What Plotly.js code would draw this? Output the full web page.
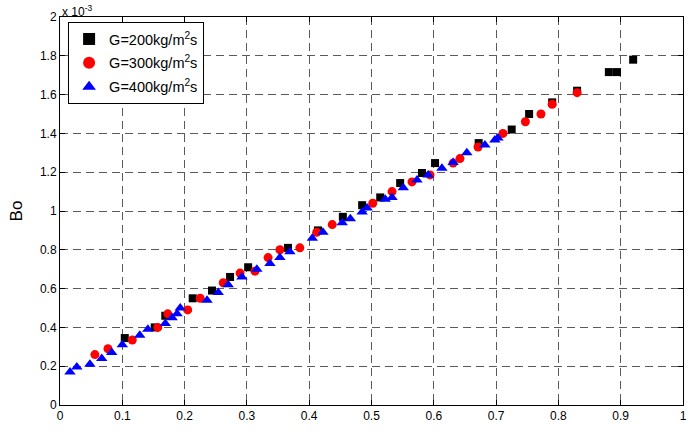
<!DOCTYPE html>
<html>
<head>
<meta charset="utf-8">
<script src="https://cdn.plot.ly/plotly-3.0.1.min.js"></script>
<style>html,body{margin:0;padding:0;background:#fff;}#chart{width:690px;height:438px;}</style>
</head>
<body>
<div id="chart"></div>
<script>
// G=200 kg/m2s
var x200 = [0.104,0.152,0.169,0.213,0.244,0.273,0.302,0.366,0.414,0.454,0.485,0.514,0.546,0.581,0.602,0.672,0.725,0.753,0.79,0.83,0.881,0.894,0.92];
var y200 = [0.345,0.40,0.46,0.55,0.59,0.66,0.71,0.81,0.90,0.97,1.03,1.07,1.144,1.196,1.247,1.35,1.42,1.50,1.56,1.62,1.716,1.716,1.78];
// G=300 kg/m2s
var x300 = [0.056,0.077,0.116,0.157,0.173,0.205,0.225,0.262,0.289,0.313,0.334,0.353,0.385,0.412,0.437,0.502,0.533,0.565,0.594,0.631,0.642,0.671,0.711,0.747,0.772,0.79,0.83];
var y300 = [0.26,0.29,0.335,0.40,0.47,0.49,0.55,0.63,0.68,0.69,0.76,0.80,0.81,0.89,0.93,1.04,1.10,1.15,1.186,1.247,1.27,1.33,1.40,1.46,1.50,1.55,1.61];
// G=400 kg/m2s
var x400 = [0.016,0.027,0.048,0.067,0.083,0.10,0.128,0.141,0.169,0.18,0.188,0.193,0.236,0.254,0.27,0.292,0.316,0.337,0.353,0.369,0.405,0.422,0.453,0.466,0.485,0.493,0.522,0.533,0.551,0.573,0.591,0.613,0.631,0.653,0.682,0.698,0.703];
var y400 = [0.17,0.196,0.21,0.24,0.27,0.31,0.36,0.39,0.42,0.45,0.47,0.50,0.54,0.58,0.62,0.66,0.70,0.73,0.76,0.79,0.86,0.89,0.94,0.96,0.995,1.015,1.06,1.07,1.12,1.16,1.186,1.22,1.25,1.30,1.34,1.366,1.376];

var names = ["G=200kg/m<sup>2</sup>s","G=300kg/m<sup>2</sup>s","G=400kg/m<sup>2</sup>s"];
var xTicks = [0,0.1,0.2,0.3,0.4,0.5,0.6,0.7,0.8,0.9,1];
var yTicks = [0,0.2,0.4,0.6,0.8,1,1.2,1.4,1.6,1.8,2];

var traces = [
  {x:x200,y:y200,mode:'markers',type:'scatter',name:names[0],legendgroup:'a',
   marker:{symbol:'square',size:8,color:'#000000'}},
  {x:x300,y:y300,mode:'markers',type:'scatter',name:names[1],legendgroup:'b',
   marker:{symbol:'circle',size:9,color:'#ff0000'}},
  {x:x400,y:y400,mode:'markers',type:'scatter',name:names[2],legendgroup:'c',
   marker:{symbol:'triangle-up',size:10,color:'#0000ff'}}
];

var axisCommon = {
  showline:true, linecolor:'#000', linewidth:1, mirror:'ticks',
  ticks:'inside', ticklen:5, tickcolor:'#000',
  showgrid:true, gridcolor:'#5a5a5a', griddash:'8px,5px', gridwidth:1,
  zeroline:false, tickfont:{family:'Liberation Sans, Arial, sans-serif',size:12,color:'#000'}
};

var layout = {
  width:690, height:438,
  margin:{l:60,r:7,t:17,b:33},
  paper_bgcolor:'#fff', plot_bgcolor:'#fff',
  showlegend:true,
  legend:{x:0.013,y:0.987,xanchor:'left',yanchor:'top',bgcolor:'#fff',
    bordercolor:'#000',borderwidth:1,
    font:{family:'Liberation Sans, Arial, sans-serif',size:14.5,color:'#000'},
    itemsizing:'constant', tracegroupgap:2, itemwidth:30},
  xaxis:Object.assign({}, axisCommon, {range:[0,1], tickvals:xTicks, ticktext:xTicks.map(String)}),
  yaxis:Object.assign({}, axisCommon, {range:[0,2], tickvals:yTicks, ticktext:yTicks.map(String),
    title:{text:'Bo', font:{family:'Liberation Sans, Arial, sans-serif',size:17,color:'#000'}, standoff:12}}),
  annotations:[{xref:'paper',yref:'paper',x:0,y:1,xanchor:'left',yanchor:'bottom',yshift:-4,
    text:'x 10<sup>-3</sup>',showarrow:false,
    font:{family:'Liberation Sans, Arial, sans-serif',size:12,color:'#000'}}]
};

Plotly.newPlot('chart', traces, layout, {displayModeBar:false, staticPlot:true});
</script>
</body>
</html>
